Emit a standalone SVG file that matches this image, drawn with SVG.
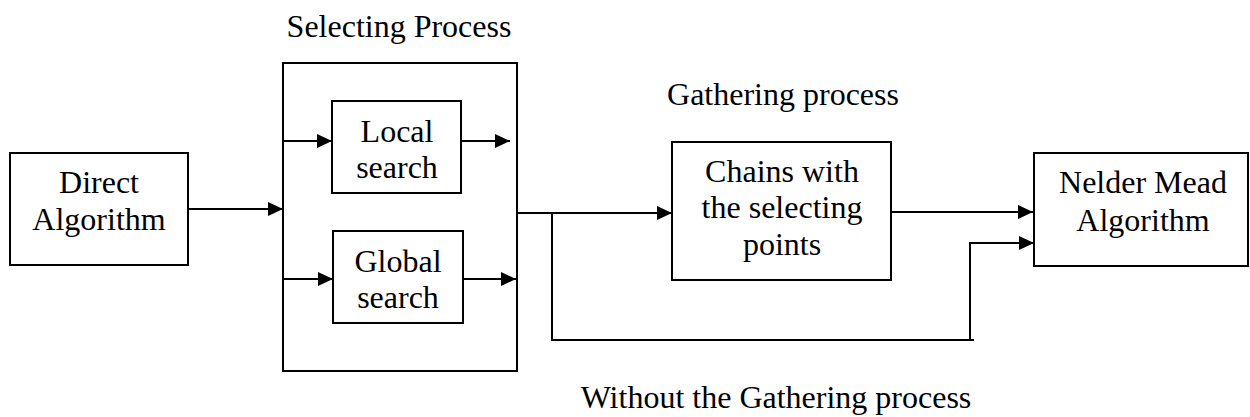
<svg xmlns="http://www.w3.org/2000/svg" width="1250" height="417" viewBox="0 0 1250 417" font-family="'Liberation Serif', 'Times New Roman', serif">
<style>
.box{fill:#fff;stroke:#000;stroke-width:2}
.ln{fill:none;stroke:#000;stroke-width:2}
text{font-family:"Liberation Serif","Times New Roman",serif;font-size:32px;fill:#000;text-anchor:middle}
</style>
<defs>
<marker id="ah" markerUnits="userSpaceOnUse" markerWidth="16" markerHeight="15" refX="15" refY="7" orient="auto">
<path d="M0,0 L15,7 L0,14 z" fill="#000"/>
</marker>
</defs>
<g id="selecting">
<rect class="box" x="283" y="63" width="234" height="308"/>
<text x="399" y="37">Selecting Process</text>
</g>
<g id="direct">
<rect class="box" x="10" y="153" width="178" height="112"/>
<text x="99" y="193">Direct</text>
<text x="99" y="230">Algorithm</text>
</g>
<g id="local">
<rect class="box" x="332" y="101" width="129" height="92"/>
<text x="397" y="142">Local</text>
<text x="397" y="178">search</text>
</g>
<g id="global">
<rect class="box" x="333" y="231" width="130" height="92"/>
<text x="398" y="272">Global</text>
<text x="398" y="308">search</text>
</g>
<g id="chains">
<rect class="box" x="672" y="142" width="219" height="138"/>
<text x="783" y="105">Gathering process</text>
<text x="782" y="182">Chains with</text>
<text x="782" y="218">the selecting</text>
<text x="782" y="255">points</text>
</g>
<g id="nelder">
<rect class="box" x="1034" y="153" width="214" height="113"/>
<text x="1143" y="193">Nelder Mead</text>
<text x="1143" y="231">Algorithm</text>
</g>
<g id="without-label">
<text x="776" y="408">Without the Gathering process</text>
</g>
<g id="connectors">
<line class="ln" x1="188" y1="209" x2="283" y2="209" marker-end="url(#ah)"/>
<line class="ln" x1="284" y1="141" x2="332" y2="141" marker-end="url(#ah)"/>
<line class="ln" x1="461" y1="141" x2="510" y2="141" marker-end="url(#ah)"/>
<line class="ln" x1="284" y1="279" x2="333" y2="279" marker-end="url(#ah)"/>
<line class="ln" x1="463" y1="279" x2="516" y2="279" marker-end="url(#ah)"/>
<line class="ln" x1="517" y1="213" x2="672" y2="213" marker-end="url(#ah)"/>
<polyline class="ln" points="552,213 552,340 974,340"/>
<polyline class="ln" points="970,340 970,243 1034,243" marker-end="url(#ah)"/>
<line class="ln" x1="891" y1="212" x2="1033" y2="212" marker-end="url(#ah)"/>
</g>
</svg>
